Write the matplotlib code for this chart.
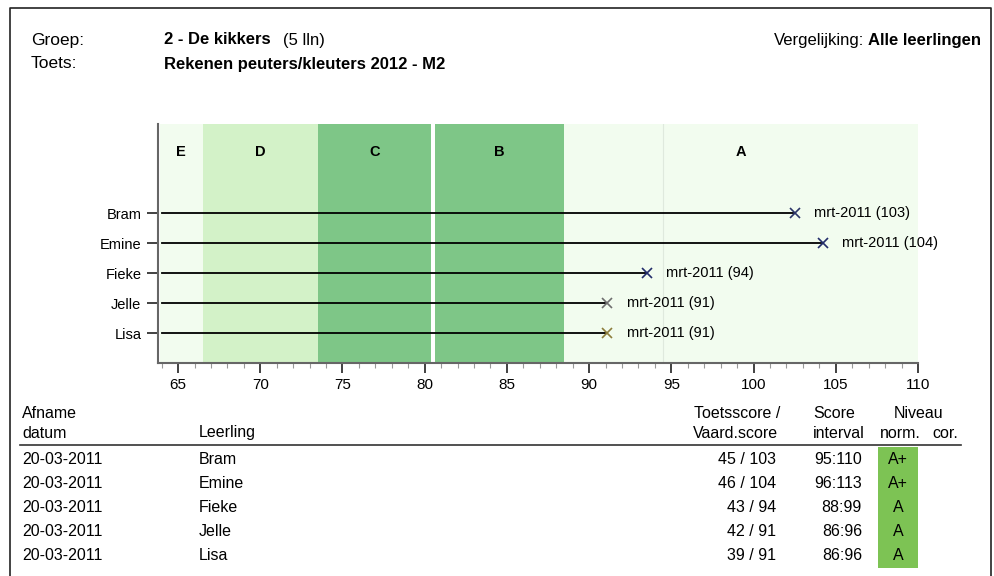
import matplotlib.pyplot as plt
from matplotlib.patches import Rectangle
from matplotlib.lines import Line2D
from matplotlib.ticker import MultipleLocator

plt.rcParams["font.family"] = ["Liberation Sans", "DejaVu Sans"]

W, H = 995, 576

# data
students = ["Bram", "Emine", "Fieke", "Jelle", "Lisa"]
scores = [102.5, 104.2, 93.5, 91.1, 91.1]
score_labels = ["mrt-2011 (103)", "mrt-2011 (104)", "mrt-2011 (94)",
                "mrt-2011 (91)", "mrt-2011 (91)"]
marker_colors = ["#2b3568", "#222c6a", "#222c6a", "#6e6e6e", "#8c7d3c"]

band_names = ["E", "D", "C", "B", "A"]
band_start = [63.9, 66.5, 73.5, 80.6, 88.5]
band_end = [66.5, 73.5, 80.4, 88.5, 110.0]
band_colors = ["#f2fcef", "#d3f2c8", "#7ec687", "#7ec687", "#f2fcef"]

dates = ["20-03-2011"] * 5
toets = ["45 / 103", "46 / 104", "43 / 94", "42 / 91", "39 / 91"]
interval = ["95:110", "96:113", "88:99", "86:96", "86:96"]
niveau = ["A+", "A+", "A", "A", "A"]


def px(x, y):
    return x / W, 1 - y / H


fig = plt.figure(figsize=(W / 100, H / 100), dpi=100)

# frame
fig.add_artist(Line2D([10 / W, 10 / W, 991 / W, 991 / W],
                      [0, 1 - 8 / H, 1 - 8 / H, 0],
                      color="#222222", lw=1.2))

# header
fig.text(*px(31, 40), "Groep:", fontsize=12.5, va="center")
fig.text(*px(164, 40), "2 - De kikkers", fontsize=12, va="center",
         fontweight="bold")
fig.text(*px(283, 40), "(5 lln)", fontsize=12, va="center")
fig.text(*px(31, 64), "Toets:", fontsize=12.5, va="center")
fig.text(*px(164, 64), "Rekenen peuters/kleuters 2012 - M2", fontsize=12,
         va="center", fontweight="bold")
fig.text(*px(981, 40), "Alle leerlingen", fontsize=12, va="center",
         ha="right", fontweight="bold")
fig.text(*px(864, 40), "Vergelijking:", fontsize=12, va="center",
         ha="right")

# chart
ax = fig.add_axes([158 / W, 1 - 363 / H, (918 - 158) / W, (363 - 124) / H])

for name, s, e, c in zip(band_names, band_start, band_end, band_colors):
    ax.axvspan(s, e, color=c, lw=0, zorder=0)
    ax.text((s + e) / 2, -2.03, name, ha="center", va="center",
            fontsize=10.5, fontweight="bold")

ax.axvline(94.5, color="#dfe9dd", lw=0.8, zorder=1)

ypos = list(range(len(students)))
for y, v, lab, col in zip(ypos, scores, score_labels, marker_colors):
    ax.plot([64.0, v], [y, y], color="black", lw=1.3, zorder=2)
    ax.plot(v, y, marker="x", color=col, ms=7, mew=1.2, zorder=3)
    ax.text(v + 1.2, y, lab, va="center", fontsize=10.5)

ax.set_xlim(63.78, 110)
ax.set_ylim(5, -2.97)
ax.set_yticks(ypos)
ax.set_yticklabels(students, fontsize=10.5)
ax.xaxis.set_major_locator(MultipleLocator(5))
ax.xaxis.set_minor_locator(MultipleLocator(1))
ax.tick_params(axis="x", which="major", length=7, width=1.3,
               color="#333333", labelsize=11, pad=4)
ax.tick_params(axis="x", which="minor", length=3.5, width=0.8,
               color="#999999")
ax.tick_params(axis="y", length=8, width=1.3, color="#333333", pad=4)
for side in ["top", "right"]:
    ax.spines[side].set_visible(False)
for side in ["left", "bottom"]:
    ax.spines[side].set_color("#666666")
    ax.spines[side].set_linewidth(1.5)

# table
fs = 11.5
fig.text(*px(22, 414), "Afname", fontsize=fs, va="center")
fig.text(*px(22, 433), "datum", fontsize=fs, va="center")
fig.text(*px(199, 433), "Leerling", fontsize=fs, va="center")
fig.text(*px(780, 414), "Toetsscore /", fontsize=fs, va="center", ha="right")
fig.text(*px(778, 433), "Vaard.score", fontsize=fs, va="center", ha="right")
fig.text(*px(813, 414), "Score", fontsize=fs, va="center")
fig.text(*px(813, 433), "interval", fontsize=fs, va="center")
fig.text(*px(919, 414), "Niveau", fontsize=fs, va="center", ha="center")
fig.text(*px(880, 433), "norm.", fontsize=fs, va="center")
fig.text(*px(932, 433), "cor.", fontsize=fs, va="center")
fig.add_artist(Line2D([20 / W, 961 / W], [1 - 445 / H, 1 - 445 / H],
                      color="#333333", lw=1.2))

fig.add_artist(Rectangle(px(878, 568), 40 / W, (568 - 447) / H,
                         color="#7dc354", lw=0))

row_y = [460, 484, 508, 532, 556]
for i, ry in enumerate(row_y):
    fig.text(*px(22, ry), dates[i], fontsize=fs, va="center")
    fig.text(*px(199, ry), students[i], fontsize=fs, va="center")
    fig.text(*px(776, ry), toets[i], fontsize=fs, va="center", ha="right")
    fig.text(*px(862, ry), interval[i], fontsize=fs, va="center", ha="right")
    fig.text(*px(898, ry), niveau[i], fontsize=fs, va="center", ha="center")

fig.savefig("out.png", dpi=100)
